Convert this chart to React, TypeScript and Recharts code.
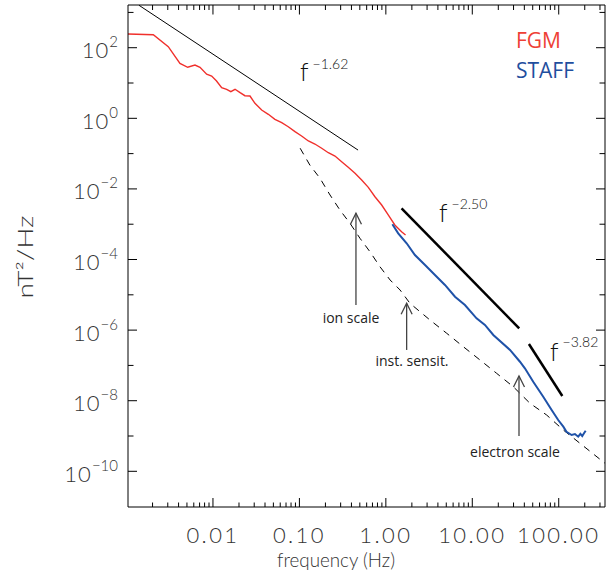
import React from 'react';
import { ComposedChart, Line, XAxis, YAxis, ReferenceLine } from 'recharts';

// FGM spectrum (red)
const fgmFreq = [0.00104, 0.00204, 0.00304, 0.00415, 0.0051, 0.00619, 0.00708, 0.00845, 0.00966, 0.011, 0.0126, 0.0144, 0.0161, 0.018, 0.0206, 0.0234, 0.0268, 0.0306, 0.0366, 0.0437, 0.0521, 0.0624, 0.0743, 0.0889, 0.106, 0.127, 0.151, 0.181, 0.216, 0.258, 0.308, 0.367, 0.44, 0.525, 0.627, 0.748, 0.895, 1.07, 1.27, 1.52, 1.69];
const fgmPsd = [244, 234, 107, 36.1, 27.9, 32.4, 27.9, 17.7, 15.8, 11.4, 7.36, 6.64, 5.67, 6.64, 5.32, 4.37, 4.29, 2.66, 1.72, 1.3, 0.938, 0.751, 0.578, 0.418, 0.316, 0.228, 0.187, 0.142, 0.106, 0.0855, 0.059, 0.0409, 0.0277, 0.0179, 0.0111, 0.006, 0.0035, 0.00182, 0.00095, 0.000614, 0.000494];

// STAFF spectrum (blue)
const staffFreq = [1.19, 1.39, 1.74, 2.17, 2.84, 3.7, 4.83, 6.31, 8.22, 11.2, 14.0, 17.5, 27.3, 35.6, 40.6, 50.7, 66.2, 82.8, 98.6, 113, 123, 141, 154, 168, 178, 187, 196, 205];
const staffPsd = [9.95e-4, 5.53e-4, 2.88e-4, 1.34e-4, 7.0e-5, 3.64e-5, 1.9e-5, 8.85e-6, 5.14e-6, 2.16e-6, 1.4e-6, 7.28e-7, 2.74e-7, 1.27e-7, 8.28e-8, 3.46e-8, 1.3e-8, 5.46e-9, 2.84e-9, 1.84e-9, 1.32e-9, 1.07e-9, 1.14e-9, 9.57e-10, 1.15e-9, 1.0e-9, 1.2e-9, 1.41e-9];

// instrument sensitivity (dashed)
const sensFreq = [0.102, 0.132, 0.173, 0.226, 0.294, 0.385, 0.502, 0.655, 0.855, 1.12, 1.46, 1.9, 3.24, 5.06, 7.87, 12.3, 19.1, 29.8, 46.5, 72.4, 113, 176, 343];
const sensPsd = [0.142, 0.0475, 0.02, 0.00673, 0.00253, 0.00106, 3.99e-4, 1.66e-4, 6.25e-5, 2.63e-5, 1.37e-5, 5.75e-6, 1.93e-6, 8.13e-7, 3.39e-7, 1.42e-7, 5.98e-8, 2.49e-8, 8.45e-9, 3.94e-9, 1.48e-9, 6.22e-10, 1.69e-10];

// power-law fits
const fit162Freq = [0.00139, 0.477];
const fit162Psd = [1600, 0.126];
const fit250Freq = [1.52, 34.9];
const fit250Psd = [2.82e-3, 1.12e-6];
const fit382Freq = [45.2, 110];
const fit382Psd = [4.05e-7, 1.36e-8];

// arrows: [freq, from, to]
const ionArrow = [0.451, 5.14e-6, 2.04e-3];
const sensArrow = [1.74, 2.74e-7, 5.75e-6];
const electronArrow = [34.7, 1.0e-9, 5.0e-8];

const xMajorTicks = [0.01, 0.1, 1, 10, 100];
const xTickLabels = ['0.01', '0.10', '1.00', '10.00', '100.00'];
const xMinorTicks = [
  0.002, 0.003, 0.004, 0.005, 0.006, 0.007, 0.008, 0.009,
  0.02, 0.03, 0.04, 0.05, 0.06, 0.07, 0.08, 0.09,
  0.2, 0.3, 0.4, 0.5, 0.6, 0.7, 0.8, 0.9,
  2, 3, 4, 5, 6, 7, 8, 9,
  20, 30, 40, 50, 60, 70, 80, 90,
  200, 300,
];
const yMajorTicks = [100, 1, 1e-2, 1e-4, 1e-6, 1e-8, 1e-10];
const yTickExponents = ['2', '0', '\u22122', '\u22124', '\u22126', '\u22128', '\u221210'];
const yMinorTicks = [1000, 10, 0.1, 1e-3, 1e-5, 1e-7, 1e-9];

const X_DOMAIN = [0.00104, 343];
const Y_DOMAIN = [9.75e-12, 1622];

// plot frame (pixels)
const LEFT = 128;
const RIGHT = 605;
const TOP = 5;
const BOTTOM = 507;

const toPoints = (fs: number[], vs: number[]) => fs.map((f, i) => ({ f, v: vs[i] }));

const FONT = 'Lato, "DejaVu Sans", sans-serif';
const LABEL_FONT = '"Open Sans", "Noto Sans", sans-serif';
const INK = '#333';

const BottomTick = ({ x, payload }: any) => {
  const i = xMajorTicks.indexOf(payload.value);
  return (
    <g>
      <line x1={x} x2={x} y1={BOTTOM} y2={BOTTOM - (i >= 0 ? 9 : 4.5)} stroke="#000" />
      {i >= 0 && (
        <text x={x} y={BOTTOM + 36} textAnchor="middle" fontSize={22} fontWeight={300}
          fontFamily={FONT} fill={INK} letterSpacing={2.4}>
          {xTickLabels[i]}
        </text>
      )}
    </g>
  );
};

const TopTick = ({ x, payload }: any) => {
  const major = xMajorTicks.includes(payload.value);
  return <line x1={x} x2={x} y1={TOP} y2={TOP + (major ? 9.5 : 5)} stroke="#000" />;
};

const LeftTick = ({ y, payload }: any) => {
  const i = yMajorTicks.indexOf(payload.value);
  return (
    <g>
      <line x1={LEFT} x2={LEFT + (i >= 0 ? 9 : 5.5)} y1={y} y2={y} stroke="#000" />
      {i >= 0 && (
        <text x={LEFT - 10} y={y + 10.5} textAnchor="end" fontWeight={300}
          fontFamily={FONT} fill={INK}>
          <tspan fontSize={22} letterSpacing={1}>10</tspan>
          <tspan fontSize={15} dy={-11}>{yTickExponents[i]}</tspan>
        </text>
      )}
    </g>
  );
};

const RightTick = ({ y, payload }: any) => {
  const major = yMajorTicks.includes(payload.value);
  return <line x1={RIGHT} x2={RIGHT - (major ? 9 : 5.5)} y1={y} y2={y} stroke="#000" />;
};

const Arrow = (props: any) => {
  const { x1, y1, x2, y2 } = props;
  return (
    <g>
      <line x1={x1} y1={y1} x2={x2} y2={y2} stroke="#444" strokeWidth={1.3} />
      <polyline points={`${x2 - 5.5},${y2 + 11} ${x2},${y2} ${x2 + 5.5},${y2 + 11}`}
        fill="none" stroke="#444" strokeWidth={1.3} />
    </g>
  );
};

const arrowSegment = (a: number[]) => [{ x: a[0], y: a[1] }, { x: a[0], y: a[2] }];

const PowerLaw = ({ x, y, exp, dy }: { x: number; y: number; exp: string; dy: number }) => (
  <text x={x} y={y} fontFamily={FONT} fontWeight={300} fill="#111">
    <tspan fontSize={25}>f</tspan>
    <tspan fontSize={14} dx={4} dy={dy}>{exp}</tspan>
  </text>
);

const App = () => {
  const allX = [...xMajorTicks, ...xMinorTicks].sort((a, b) => a - b);
  const allY = [...yMajorTicks, ...yMinorTicks].sort((a, b) => a - b);
  return (
    <div style={{ position: 'absolute', left: 0, top: 0, width: 606, height: 588, background: '#fff' }}>
      <ComposedChart width={606} height={588} margin={{ top: 0, right: 0, bottom: 0, left: 0 }}>
        <XAxis dataKey="f" type="number" scale="log" domain={X_DOMAIN} allowDataOverflow
          ticks={allX} interval={0} tick={BottomTick} tickLine={false} tickSize={0} tickMargin={0}
          height={588 - BOTTOM} axisLine={{ stroke: '#000' }} />
        <XAxis xAxisId="top" orientation="top" dataKey="f" type="number" scale="log" domain={X_DOMAIN}
          allowDataOverflow ticks={allX} interval={0} tick={TopTick} tickLine={false} tickSize={0}
          tickMargin={0} height={TOP} axisLine={{ stroke: '#000' }} />
        <YAxis type="number" scale="log" domain={Y_DOMAIN} allowDataOverflow ticks={allY} interval={0}
          tick={LeftTick} tickLine={false} tickSize={0} tickMargin={0} width={LEFT} axisLine={{ stroke: '#000' }} />
        <YAxis yAxisId="right" orientation="right" type="number" scale="log" domain={Y_DOMAIN}
          allowDataOverflow ticks={allY} interval={0} tick={RightTick} tickLine={false} tickSize={0}
          tickMargin={0} width={606 - RIGHT} axisLine={{ stroke: '#000' }} />

        <Line data={toPoints(sensFreq, sensPsd)} dataKey="v" stroke="#000" strokeWidth={1}
          strokeDasharray="7 6" dot={false} isAnimationActive={false} />
        <Line data={toPoints(fit162Freq, fit162Psd)} dataKey="v" stroke="#000" strokeWidth={1}
          dot={false} isAnimationActive={false} />
        <Line data={toPoints(fit250Freq, fit250Psd)} dataKey="v" stroke="#000" strokeWidth={2.5}
          dot={false} isAnimationActive={false} />
        <Line data={toPoints(fit382Freq, fit382Psd)} dataKey="v" stroke="#000" strokeWidth={2.5}
          dot={false} isAnimationActive={false} />
        <Line data={toPoints(fgmFreq, fgmPsd)} dataKey="v" stroke="#f0302c" strokeWidth={1.4}
          dot={false} isAnimationActive={false} />
        <Line data={toPoints(staffFreq, staffPsd)} dataKey="v" stroke="#1f52a8" strokeWidth={2}
          dot={false} isAnimationActive={false} />

        <ReferenceLine segment={arrowSegment(ionArrow)} shape={Arrow} />
        <ReferenceLine segment={arrowSegment(sensArrow)} shape={Arrow} />
        <ReferenceLine segment={arrowSegment(electronArrow)} shape={Arrow} />
      </ComposedChart>

      <svg width={606} height={588} style={{ position: 'absolute', left: 0, top: 0, pointerEvents: 'none' }}>
        <text x={336} y={567} textAnchor="middle" fontSize={19} fontWeight={300} fontFamily={FONT}
          fill={INK} textLength={118} lengthAdjust="spacingAndGlyphs">frequency (Hz)</text>
        <text x={33} y={257} transform="rotate(-90, 33, 257)" textAnchor="middle" fontSize={21}
          fontWeight={300} fontFamily={FONT} fill={INK} textLength={83} lengthAdjust="spacingAndGlyphs">
          nT²/Hz
        </text>

        <PowerLaw x={300} y={81} exp={'\u22121.62'} dy={-12} />
        <PowerLaw x={439} y={222} exp={'\u22122.50'} dy={-13} />
        <PowerLaw x={550} y={361} exp={'\u22123.82'} dy={-14} />

        <text x={516} y={48} fontSize={21} fontFamily={LABEL_FONT} fill="#ee4035">FGM</text>
        <text x={516} y={78} fontSize={21} fontFamily={LABEL_FONT} fill="#1f4e9e">STAFF</text>

        <text x={351} y={323} textAnchor="middle" fontSize={14} fontFamily={LABEL_FONT} fill="#222">ion scale</text>
        <text x={412} y={366} textAnchor="middle" fontSize={14} fontFamily={LABEL_FONT} fill="#222">inst. sensit.</text>
        <text x={515} y={457} textAnchor="middle" fontSize={14} fontFamily={LABEL_FONT} fill="#222">electron scale</text>
      </svg>
    </div>
  );
};

export default App;
